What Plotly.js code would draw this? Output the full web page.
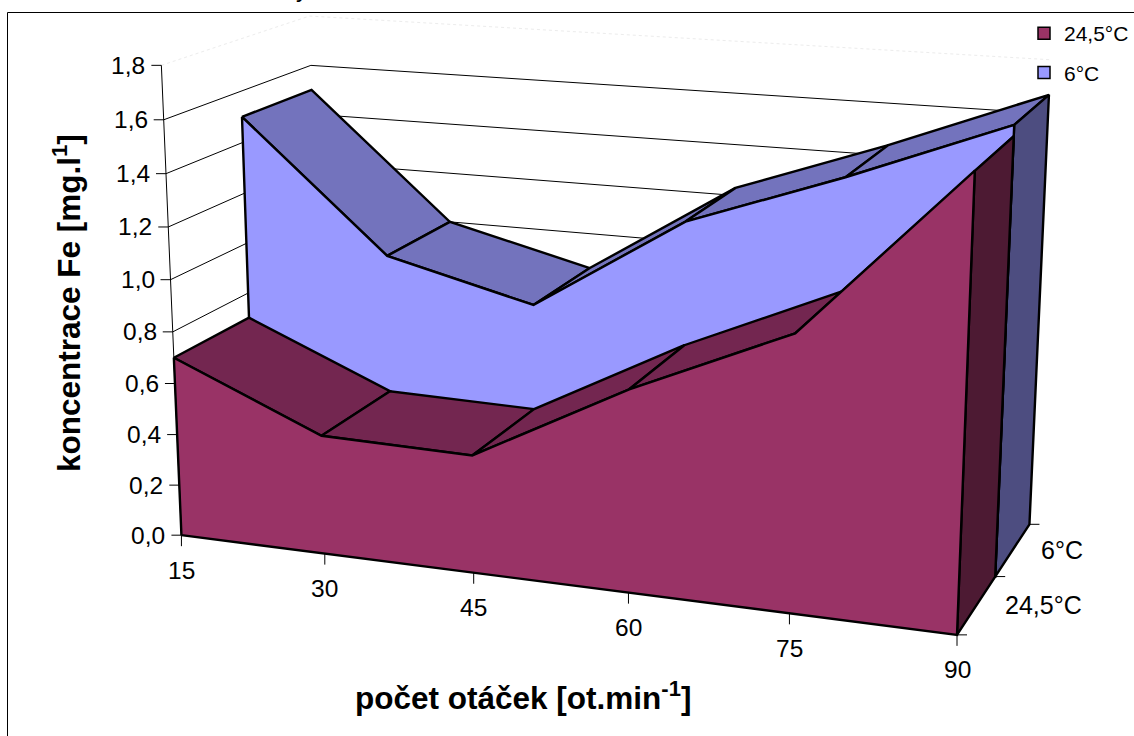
<!DOCTYPE html>
<html><head><meta charset="utf-8"><script src="https://cdn.plot.ly/plotly-3.0.1.min.js"></script>
<style>html,body{margin:0;padding:0;background:#fff}#p{width:1134px;height:736px}</style></head><body><div id="p"></div>
<script>
const rotations=[15,30,45,60,75,90];
const series245=[0.70,0.46,0.45,0.76,1.02,1.63];
const series6=[1.50,1.00,0.86,1.23,1.44,1.67];
const zTicks=[0,0.2,0.4,0.6,0.8,1.0,1.2,1.4,1.6,1.8];
const zText=['0,0','0,2','0,4','0,6','0,8','1,0','1,2','1,4','1,6','1,8'];
const seriesNames=['24,5°C','6°C'];
const CAM=[1.1389,-3.1661,0.8787,-0.3488,0.2781,0.9955,-2.7377,0.4105,0.6002,2794.6091,598.8408,364.9621];
function project(X,Y,Z){const[ex,ey,ez,yaw,pit,ux,uy,ay,az,F,cx,cy]=CAM;const P=[(X-15)/75,Y/2,Z/1.8];const w=[P[0]-.5,(P[1]-.5)*ay,(P[2]-.5)*az];
const f=[Math.sin(yaw)*Math.cos(pit),Math.cos(yaw)*Math.cos(pit),-Math.sin(pit)];
let r=[f[1]-f[2]*uy,f[2]*ux-f[0],f[0]*uy-f[1]*ux];const n=Math.hypot(...r);r=r.map(v=>v/n);
const u=[r[1]*f[2]-r[2]*f[1],r[2]*f[0]-r[0]*f[2],r[0]*f[1]-r[1]*f[0]];const d=[w[0]-ex,w[1]-ey,w[2]-ez];const zc=d[0]*f[0]+d[1]*f[1]+d[2]*f[2];
return[cx+F*(d[0]*r[0]+d[1]*r[1]+d[2]*r[2])/zc,cy-F*(d[0]*u[0]+d[1]*u[1]+d[2]*u[2])/zc];}
const traces=[];
function poly(pts,fill,width){const xy=pts.map(p=>project(...p));traces.push({type:'scatter',mode:'lines',x:xy.map(p=>p[0]),y:xy.map(p=>p[1]),fill:fill?'toself':'none',fillcolor:fill||undefined,line:{color:'#000',width:width||2.4},hoverinfo:'skip',showlegend:false})}
function gridLine(z,c,dash){const xy=[[15,0,z],[15,2,z],[90,2,z]].map(p=>project(...p));traces.push({type:'scatter',mode:'lines',x:xy.map(p=>p[0]),y:xy.map(p=>p[1]),line:{color:c,width:1,dash:dash||'solid'},hoverinfo:'skip',showlegend:false})}
zTicks.slice(1,9).forEach(z=>gridLine(z,'#000'));gridLine(1.8,'#ececec','dot');
function series(v,y0,y1,cF,cT,cS){for(let m=0;m<5;m++)poly([[rotations[m],y0,v[m]],[rotations[m+1],y0,v[m+1]],[rotations[m+1],y1,v[m+1]],[rotations[m],y1,v[m]],[rotations[m],y0,v[m]]],cT);
poly([[90,y0,0],[90,y1,0],[90,y1,v[5]],[90,y0,v[5]],[90,y0,0]],cS);
poly([[15,y0,0],...rotations.map((x,m)=>[x,y0,v[m]]),[90,y0,0],[15,y0,0]],cF)}
series(series6,1,2,'#9999FF','#7373BD','#4D4D80');series(series245,0,1,'#993366','#732650','#4D1A33');
poly([[15,0,0],[15,0,1.8]],null,1);
traces.push({type:'scatter',mode:'markers',name:seriesNames[0],legendgroup:'a',x:[null],y:[null],marker:{symbol:'square',size:12,color:'#993366',line:{color:'#000',width:1.5}}});
traces.push({type:'scatter',mode:'markers',name:seriesNames[1],legendgroup:'b',x:[null],y:[null],marker:{symbol:'square',size:12,color:'#9999FF',line:{color:'#000',width:1.5}}});
const F='"Liberation Sans",Arial,sans-serif',ann=[],shp=[];
function label(p,text,opt,size){const[x,y]=project(...p);ann.push(Object.assign({x,y,xref:'x',yref:'y',text,showarrow:false,font:{family:F,size:size||24.5,color:'#000'}},opt))}
function tick(p,dx,dy){const[x,y]=project(...p);shp.push({type:'line',xref:'x',yref:'y',x0:x,y0:y,x1:x+dx,y1:y+dy,line:{color:'#000',width:1}})}
zTicks.forEach((z,i)=>{tick([15,0,z],-10,0);label([15,0,z],zText[i],{xanchor:'right',xshift:-14})});
rotations.forEach(x=>{tick([x,0,0],0,11);label([x,0,0],String(x),{yshift:-35})});
[0,1,2].forEach(y=>tick([90,y,0],10,0));
label([90,.5,0],seriesNames[0],{xanchor:'left',xshift:26},25);label([90,1.5,0],seriesNames[1],{xanchor:'left',xshift:26},25);
ann.push({xref:'x',yref:'y',x:67,y:303,text:'<b>koncentrace Fe [mg.l<sup>1</sup>]</b>',textangle:-90,showarrow:false,font:{family:F,size:31.5,color:'#000'}});
ann.push({xref:'x',yref:'y',x:523,y:696,text:'<b>počet otáček [ot.min<sup>-1</sup>]</b>',showarrow:false,font:{family:F,size:31.5,color:'#000'}});
ann.push({xref:'x',yref:'y',x:302,y:0,yshift:12,text:'y',showarrow:false,font:{family:F,size:24,color:'#000'}});
shp.push({type:'line',xref:'x',yref:'y',x0:7.5,x1:7.5,y0:12.5,y1:736,line:{color:'#000',width:1}},{type:'line',xref:'x',yref:'y',x0:7.5,x1:1134,y0:12.5,y1:12.5,line:{color:'#000',width:1}});
const layout={width:1134,height:736,margin:{l:0,r:0,t:0,b:0,pad:0,autoexpand:false},paper_bgcolor:'#fff',plot_bgcolor:'rgba(0,0,0,0)',
xaxis:{range:[0,1134],visible:false,fixedrange:true},yaxis:{range:[736,0],visible:false,fixedrange:true},annotations:ann,shapes:shp,
showlegend:true,legend:{x:1024/1134,xanchor:'left',y:1-13/736,yanchor:'top',bgcolor:'rgba(0,0,0,0)',tracegroupgap:9,itemwidth:30,font:{family:F,size:21,color:'#000'}}};
Plotly.newPlot('p',traces,layout,{staticPlot:true});
</script></body></html>
